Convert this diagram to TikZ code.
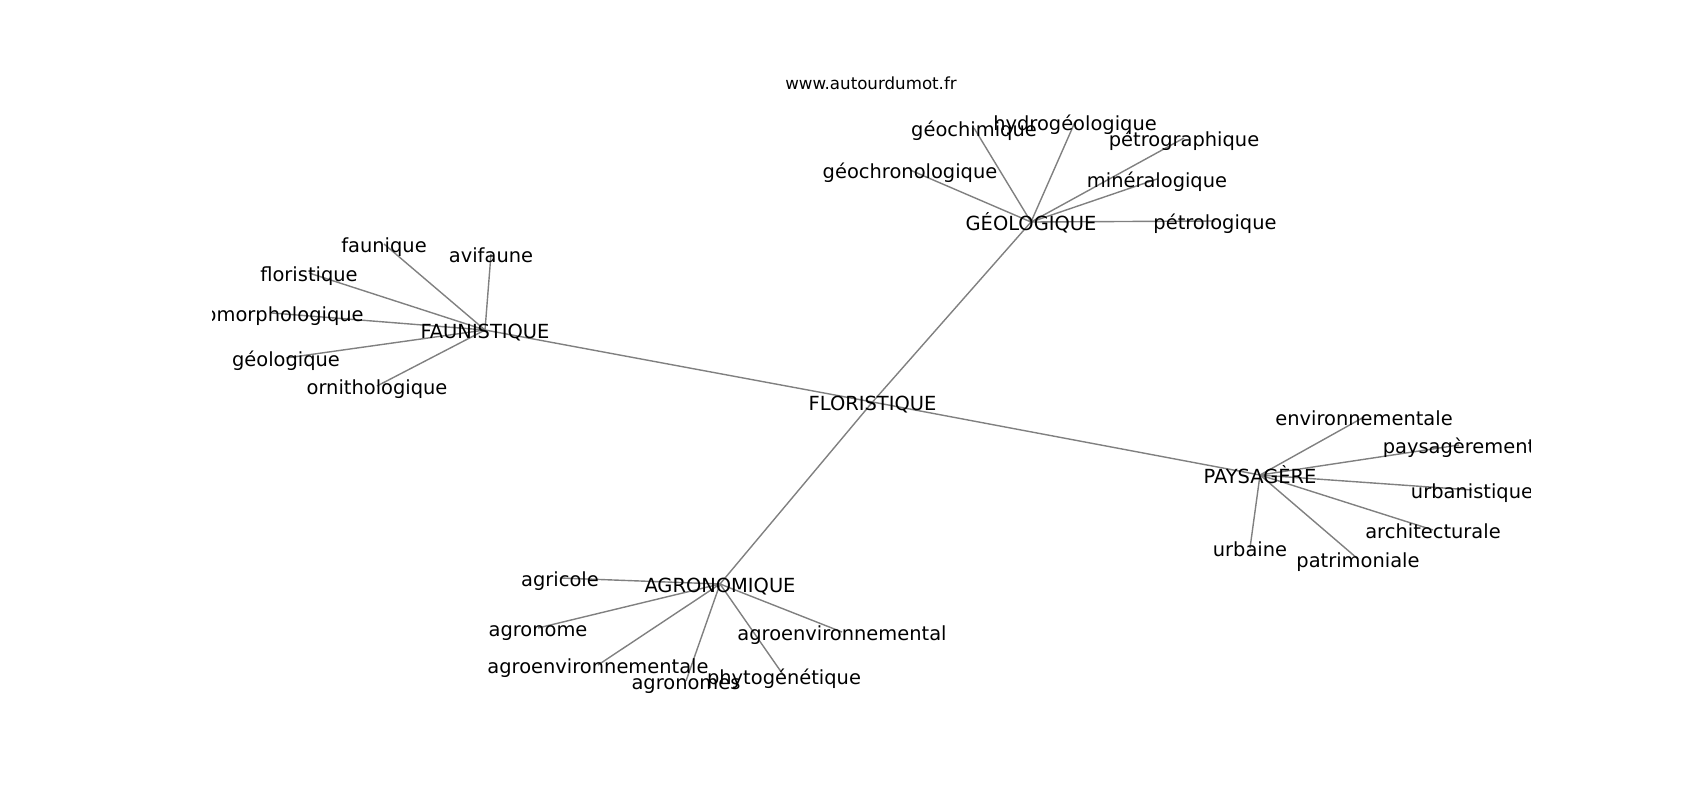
\documentclass[tikz,border=0pt]{standalone}
\usepackage{fontspec}
\setmainfont{DejaVu Sans}
\usetikzlibrary{backgrounds}

\begin{document}
\begin{tikzpicture}[x=1pt, y=-1pt,
    word/.style={inner sep=0pt, text height=16pt, text depth=0pt, font=\fontsize{19.44}{23}\selectfont},
    link/.style={draw=black!50, line width=1.4pt}]
    \useasboundingbox (0,0) rectangle (1700,800);

    % Site
    \node [anchor=base, font=\fontsize{16.67}{20}\selectfont] (site) at (871,89) {www.autourdumot.fr};

    \begin{scope}
    \clip (212.5,96) rectangle (1530,712);
    % Centre
    \node [word] (flor) at (872.5,402) {FLORISTIQUE};

    % Geologique
    \node [word] (geol) at (1031,222) {GÉOLOGIQUE};
    \node [word] (geol1) at (974,128) {géochimique};
    \node [word] (geol2) at (1075,122) {hydrogéologique};
    \node [word] (geol3) at (910,170) {géochronologique};
    \node [word] (geol4) at (1184,138) {pétrographique};
    \node [word] (geol5) at (1157,179) {minéralogique};
    \node [word] (geol6) at (1215,221) {pétrologique};

    % Faunistique
    \node [word] (faun) at (485,330) {FAUNISTIQUE};
    \node [word] (faun1) at (384,244) {faunique};
    \node [word] (faun2) at (491,254) {avifaune};
    \node [word] (faun3) at (309,273) {floristique};
    \node [word] (faun4) at (272,313) {géomorphologique};
    \node [word] (faun5) at (286,358) {géologique};
    \node [word] (faun6) at (377,386) {ornithologique};

    % Paysagere
    \node [word] (pays) at (1260,475) {PAYSAGÈRE};
    \node [word] (pays1) at (1364,417) {environnementale};
    \node [word] (pays2) at (1459,445) {paysagèrement};
    \node [word] (pays3) at (1472,490) {urbanistique};
    \node [word] (pays4) at (1433,530) {architecturale};
    \node [word] (pays5) at (1250,548) {urbaine};
    \node [word] (pays6) at (1358,559) {patrimoniale};

    % Agronomique
    \node [word] (agro) at (720,584) {AGRONOMIQUE};
    \node [word] (agro1) at (560,578) {agricole};
    \node [word] (agro2) at (538,628) {agronome};
    \node [word] (agro3) at (598,665) {agroenvironnementale};
    \node [word] (agro4) at (686,681) {agronomes};
    \node [word] (agro5) at (784,676) {phytogénétique};
    \node [word] (agro6) at (842,632) {agroenvironnemental};
    \end{scope}

    % Links
    \begin{pgfonlayer}{background}
    \draw [link] (flor.center) -- (geol.center);
    \draw [link] (flor.center) -- (faun.center);
    \draw [link] (flor.center) -- (pays.center);
    \draw [link] (flor.center) -- (agro.center);
    \draw [link] (geol.center) -- (geol1.center);
    \draw [link] (geol.center) -- (geol2.center);
    \draw [link] (geol.center) -- (geol3.center);
    \draw [link] (geol.center) -- (geol4.center);
    \draw [link] (geol.center) -- (geol5.center);
    \draw [link] (geol.center) -- (geol6.center);
    \draw [link] (faun.center) -- (faun1.center);
    \draw [link] (faun.center) -- (faun2.center);
    \draw [link] (faun.center) -- (faun3.center);
    \draw [link] (faun.center) -- (faun4.center);
    \draw [link] (faun.center) -- (faun5.center);
    \draw [link] (faun.center) -- (faun6.center);
    \draw [link] (pays.center) -- (pays1.center);
    \draw [link] (pays.center) -- (pays2.center);
    \draw [link] (pays.center) -- (pays3.center);
    \draw [link] (pays.center) -- (pays4.center);
    \draw [link] (pays.center) -- (pays5.center);
    \draw [link] (pays.center) -- (pays6.center);
    \draw [link] (agro.center) -- (agro1.center);
    \draw [link] (agro.center) -- (agro2.center);
    \draw [link] (agro.center) -- (agro3.center);
    \draw [link] (agro.center) -- (agro4.center);
    \draw [link] (agro.center) -- (agro5.center);
    \draw [link] (agro.center) -- (agro6.center);
    \end{pgfonlayer}
\end{tikzpicture}
\end{document}
